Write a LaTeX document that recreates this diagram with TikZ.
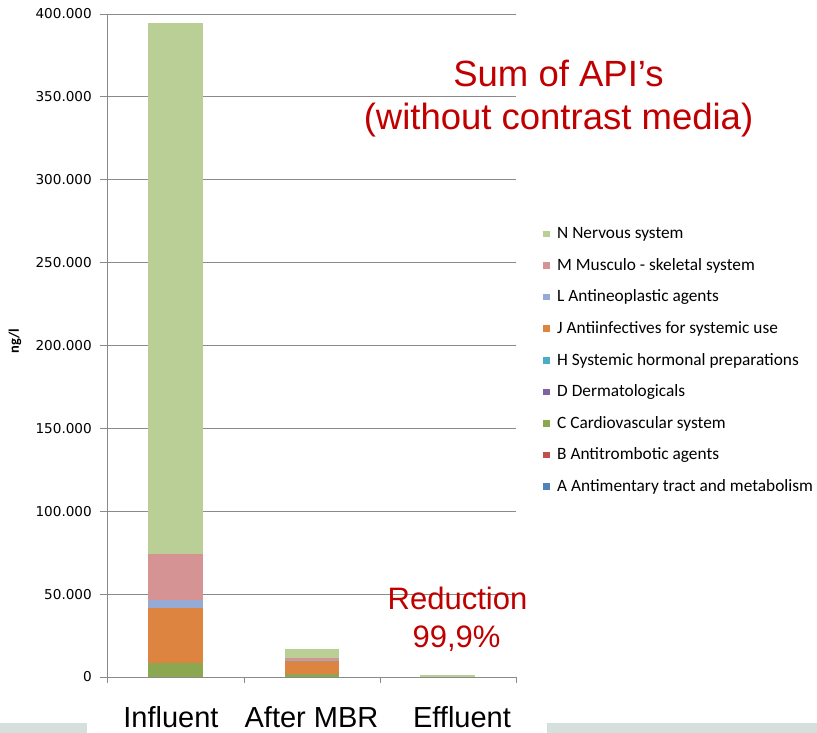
\documentclass[tikz,border=0pt]{standalone}
\usepackage{fontspec}
\setmainfont{Liberation Sans}
\newfontfamily\legfont{Carlito}
\newfontfamily\tickfont{DejaVu Sans}
\usepackage{tikz}

\definecolor{colA}{HTML}{4F81BD}
\definecolor{colB}{HTML}{C0504D}
\definecolor{colC}{HTML}{8BA850}
\definecolor{colD}{HTML}{8064A2}
\definecolor{colH}{HTML}{4BACC6}
\definecolor{colJ}{HTML}{DC8440}
\definecolor{colL}{HTML}{95ABD4}
\definecolor{colM}{HTML}{D59493}
\definecolor{colN}{HTML}{B9CF96}
\definecolor{gridgray}{HTML}{8A8A8A}
\definecolor{apired}{HTML}{C00000}
\definecolor{footer}{HTML}{D5DFDB}

\tikzset{
  ticklbl/.style={anchor=east, font=\tickfont\fontsize{13.6}{15}\selectfont},
  leglbl/.style={anchor=base west, font=\legfont\fontsize{17.3}{19}\selectfont},
  catlbl/.style={anchor=base, font=\fontsize{29}{34}\selectfont},
  redlbl/.style={anchor=base, text=apired}
}

\begin{document}
\begin{tikzpicture}[x=1pt,y=1pt,inner sep=0pt]
        \useasboundingbox (0,0) rectangle (817,733);
        \fill[footer] (0,0) rectangle (87,10);
        \fill[footer] (547,0) rectangle (817,10);

        \begin{scope}[shift={(0pt,56pt)},y=16.575pt]
        \foreach \k/\lab in {0/0,1/50.000,2/100.000,3/150.000,4/200.000,5/250.000,6/300.000,7/350.000,8/400.000} {
            \draw[gridgray,line width=0.9pt] (100,\k*5) -- (516,\k*5);
            \node[ticklbl] (tick\k) at (92,\k*5) {\lab};
        }

        % Influent
        \fill[colC] (148,0) rectangle (203,0.845);
        \fill[colJ] (148,0.845) rectangle (203,4.16);
        \fill[colL] (148,4.16) rectangle (203,4.65);
        \fill[colM] (148,4.65) rectangle (203,7.40);
        \fill[colN] (148,7.40) rectangle (203,39.47);

        % After MBR
        \fill[colC] (285,0) rectangle (339,0.2);
        \fill[colJ] (285,0.2) rectangle (339,0.965);
        \fill[colL] (285,0.965) rectangle (339,1.05);
        \fill[colM] (285,1.05) rectangle (339,1.13);
        \fill[colN] (285,1.13) rectangle (339,1.71);

        % Effluent
        \fill[colN] (420,0) rectangle (475,0.12);

        \draw[gridgray,line width=0.9pt] (100,0) -- (516,0);
        \draw[gridgray,line width=0.9pt] (107,0) -- (107,40);
        \foreach \x in {107,244,380,516}
            \draw[gridgray,line width=0.9pt] (\x,0) -- (\x,-0.36);
        \end{scope}

        \node[rotate=90, font=\legfont\bfseries\fontsize{14.5}{16}\selectfont] (unit) at (15,392) {ng/l};

        \foreach \col/\lab [count=\i] in {colN/N Nervous system, colM/M Musculo - skeletal system, colL/L Antineoplastic agents, colJ/J Antiinfectives for systemic use, colH/H Systemic hormonal preparations, colD/D Dermatologicals, colC/C Cardiovascular system, colB/B Antitrombotic agents, colA/A Antimentary tract and metabolism} {
            \fill[\col] (543,499-31.6*\i+31.6-3.3) rectangle (550,499-31.6*\i+31.6+3.3);
            \node[leglbl] (leg\i) at (557,499-31.6*\i+31.6-4.8) {\lab};
        }

        \node[redlbl, font=\fontsize{36.5}{43}\selectfont] (title1) at (558.5,646.3) {Sum of API’s};
        \node[redlbl, font=\fontsize{36.5}{43}\selectfont] (title2) at (558.5,603) {(without contrast media)};

        \node[redlbl, font=\fontsize{31}{36}\selectfont] (red1) at (457.5,123) {Reduction};
        \node[redlbl, font=\fontsize{31}{36}\selectfont] (red2) at (456.5,85.3) {99,9\%};

        \node[catlbl] (cat1) at (171,5) {Influent};
        \node[catlbl] (cat2) at (311.5,5) {After MBR};
        \node[catlbl] (cat3) at (462,5) {Effluent};
    \end{tikzpicture}
\end{document}
